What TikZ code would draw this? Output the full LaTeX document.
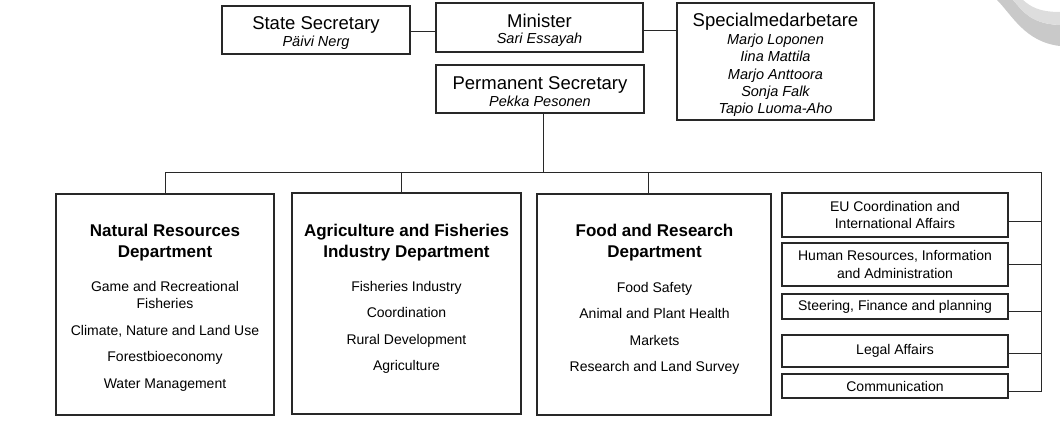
\documentclass[tikz,border=0pt]{standalone}
\usepackage{fontspec}
\setmainfont{Liberation Sans}
\definecolor{swdark}{RGB}{201,201,201}
\definecolor{swlight}{RGB}{221,221,221}
\definecolor{linec}{RGB}{40,40,40}
\begin{document}
\begin{tikzpicture}[x=1pt,y=-1pt,
  box/.style={draw=linec, line width=1.1pt, fill=white, inner sep=0pt},
  conn/.style={draw=linec, line width=1pt},
  ttl/.style={font=\fontsize{18.5}{22}\selectfont, anchor=base, inner sep=0pt},
  nm/.style={font=\fontsize{14.5}{17.2}\selectfont\itshape, inner sep=0pt, align=center},
  dtitle/.style={font=\fontsize{17}{21}\selectfont\bfseries, align=center, anchor=north, inner sep=0pt},
  ditems/.style={font=\fontsize{14}{17}\selectfont, align=center, anchor=north, inner sep=0pt},
  sbox/.style={box, minimum width=226pt, font=\fontsize{14}{17.5}\selectfont, align=center},
]
\useasboundingbox (0,0) rectangle (1060,433);

% decorative swoosh (top right)
\fill[swdark] (997,0) .. controls (1012,15) and (1025,42) .. (1060,46) -- (1060,25)
  .. controls (1030,24) and (1022,10) .. (1013,0) -- cycle;
\fill[swlight] (1013,0) .. controls (1022,10) and (1030,24) .. (1060,25) -- (1060,12)
  .. controls (1038,12) and (1030,6) .. (1023,0) -- cycle;

% top boxes
\node[box, minimum width=188pt, minimum height=48pt] (ss) at (316,30) {};
\node[ttl] (sst) at (316,29.3) {State Secretary};
\node[nm, anchor=base] (ssn) at (316,47) {Päivi Nerg};

\node[box, minimum width=207pt, minimum height=49pt] (mi) at (539.5,27.5) {};
\node[ttl] (mit) at (539.5,27.3) {Minister};
\node[nm, anchor=base] (min) at (539.5,43.5) {Sari Essayah};

\node[box, minimum width=208pt, minimum height=48pt] (ps) at (540,89) {};
\node[ttl] (pst) at (540,90) {Permanent Secretary};
\node[nm, anchor=base] (psn) at (540,106.7) {Pekka Pesonen};

\node[box, minimum width=197pt, minimum height=117pt] (sm) at (775.5,61.5) {};
\node[ttl] (smt) at (775.5,27) {Specialmedarbetare};
\node[nm, anchor=north] (smn) at (775.5,34) {Marjo Loponen\\Iina Mattila\\Marjo Anttoora\\Sonja Falk\\Tapio Luoma-Aho};

% departments
\node[box, minimum width=218pt, minimum height=221pt] (d1) at (165,304.5) {};
\node[dtitle] (d1t) at (165,223.8) {Natural Resources\\Department};
\node[ditems] (d1i) at (165,281.3) {Game and Recreational\\Fisheries\\[9.5pt]Climate, Nature and Land Use\\[9.5pt]Forestbioeconomy\\[9.5pt]Water Management};

\node[box, minimum width=229pt, minimum height=221pt] (d2) at (406.5,303.5) {};
\node[dtitle] (d2t) at (406.5,223.5) {Agriculture and Fisheries\\Industry Department};
\node[ditems] (d2i) at (406.5,281) {Fisheries Industry\\[9.5pt]Coordination\\[9.5pt]Rural Development\\[9.5pt]Agriculture};

\node[box, minimum width=234pt, minimum height=221pt] (d3) at (654,304.5) {};
\node[dtitle] (d3t) at (654.5,223.8) {Food and Research\\Department};
\node[ditems] (d3i) at (654.5,282) {Food Safety\\[9.5pt]Animal and Plant Health\\[9.5pt]Markets\\[9.5pt]Research and Land Survey};

% staff units
\node[sbox, minimum height=44pt] (eu) at (895,215) {EU Coordination and\\International Affairs};
\node[sbox, minimum height=43pt] (hr) at (895,264.5) {Human Resources, Information\\and Administration};
\node[sbox, minimum height=25pt] (st) at (895,306.5) {Steering, Finance and planning};
\node[sbox, minimum height=32pt] (la) at (895,351) {Legal Affairs};
\node[sbox, minimum height=24pt] (co) at (895,386) {Communication};

% connectors
\coordinate (ssR) at ([yshift=-2pt]ss.east);
\draw[conn] (ssR) -- (ssR -| mi.west);
\coordinate (miR) at ([yshift=-3.5pt]mi.east);
\draw[conn] (miR) -- (miR -| sm.west);

\coordinate (busR) at (1041,172);
\coordinate (psB) at ([xshift=3pt]ps.south);
\draw[conn] (psB) -- (psB |- busR);
\draw[conn] (d1.north) |- (busR);
\coordinate (d2T) at ([xshift=-5.5pt]d2.north);
\draw[conn] (d2T) -- (d2T |- busR);
\coordinate (d3T) at ([xshift=-6pt]d3.north);
\draw[conn] (d3T) -- (d3T |- busR);

\coordinate (euR) at ([yshift=-6pt]eu.east);
\coordinate (hrR) at (hr.east);
\coordinate (stR) at ([yshift=-5pt]st.east);
\coordinate (laR) at ([yshift=-2pt]la.east);
\coordinate (coR) at ([yshift=-5pt]co.east);
\draw[conn] (busR) -- (busR |- coR) -- (coR);
\draw[conn] (euR) -- (euR -| busR);
\draw[conn] (hrR) -- (hrR -| busR);
\draw[conn] (stR) -- (stR -| busR);
\draw[conn] (laR) -- (laR -| busR);
\end{tikzpicture}
\end{document}
